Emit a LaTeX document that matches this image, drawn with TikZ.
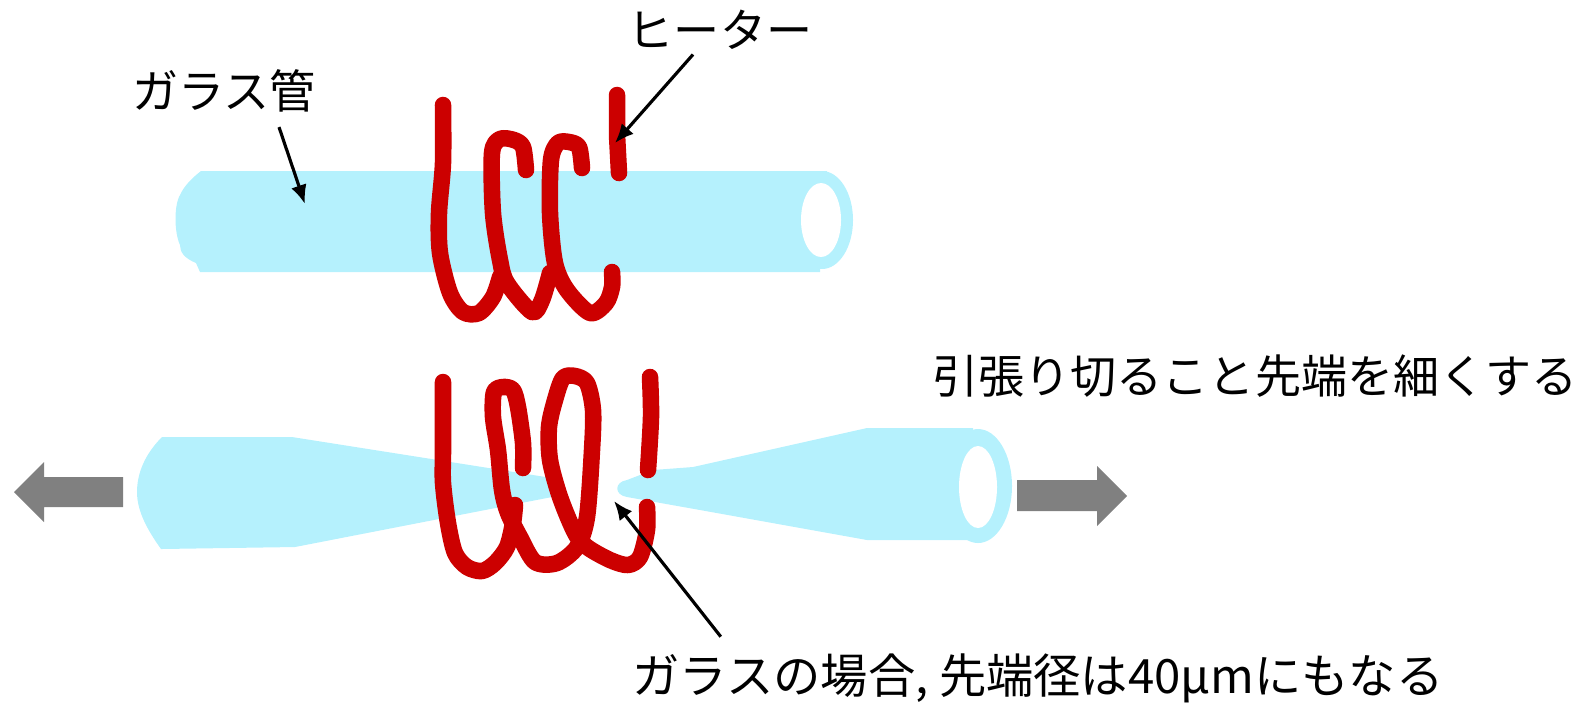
\documentclass[tikz,border=0pt]{standalone}
\usepackage{fontspec}
\setmainfont{Noto Sans CJK JP}
\usetikzlibrary{arrows.meta,calc}
\definecolor{glassblue}{HTML}{B5F1FD}
\definecolor{coilred}{HTML}{CC0000}
\tikzset{
    label text/.style={inner sep=2pt, font=\fontsize{13.1pt}{15pt}\selectfont},
    pointer/.style={line width=0.9pt, -{Latex[length=1.9mm, width=1.6mm]}},
    glass/.style={fill=glassblue, draw=none},
    coil/.style={draw=coilred, line width=4.7pt, line cap=round, line join=round},
    pull/.style={fill=black!50, draw=none}
}

\begin{document}
\begin{tikzpicture}[x=0.01cm, y=-0.01cm]
                    \useasboundingbox (0,0) rectangle (1580,702);

                    % upper tube
                    \fill[glass] (201,171) -- (827,171) -- (820,272) -- (200,272) -- (196,263)
                        .. controls (184,258) and (180,252) .. (180,245)
                        .. controls (174,232) and (174,205) .. (180,195)
                        .. controls (184,186) and (192,178) .. (201,171) -- cycle;
                    \fill[glass] (822,220) ellipse (31 and 49);
                    \fill[white] (821,220) ellipse (20 and 37);

                    % lower tube, left part
                    \fill[glass] (162,437) -- (292,437) -- (552,478) -- (552,497) -- (295,547) -- (161,549)
                        .. controls (146,528) and (137,510) .. (137,492)
                        .. controls (137,472) and (146,453) .. (162,437) -- cycle;
                    % lower tube, right part
                    \fill[glass] (867,428) -- (973,428) -- (970,540) -- (867,540) -- (700,510) -- (627,497)
                        .. controls (614,495) and (614,482) .. (627,480)
                        -- (653,470) -- (693,467) -- cycle;
                    \fill[glass] (978,486) ellipse (34 and 57);
                    \fill[white] (978,487) ellipse (19 and 41);

                    % upper coil
                    \draw[coil] plot[smooth, tension=0.5] coordinates {(443,105) (443,163) (439,213) (440,253) (450,293) (463,312) (479,313) (493,297) (500,277)};
                    \draw[coil] plot[smooth, tension=0.5] coordinates {(526,170) (523,147) (514,140) (500,139) (492,153) (493,213) (500,260) (507,283) (532,312) (542,300) (550,273)};
                    \draw[coil] plot[smooth, tension=0.5] coordinates {(582,168) (579,147) (569,142) (558,143) (551,160) (550,213) (555,263) (567,290) (590,313) (606,303) (612,287) (612,272)};
                    \draw[coil] (617,95) -- (617,135) -- (619,173);

                    % lower coil
                    \draw[coil] plot[smooth, tension=0.5] coordinates {(443,382) (443,450) (443,483) (448,523) (455,553) (467,567) (482,571) (495,563) (507,547) (513,523) (515,505)};
                    \draw[coil] plot[smooth, tension=0.5] coordinates {(523,468) (523,443) (518,407) (513,390) (503,387) (494,392) (493,417) (498,450) (502,490) (508,513) (520,537) (535,562) (557,563) (577,547) (587,517) (592,450) (593,410) (587,383) (575,376) (563,378) (555,400) (549,427) (550,460) (560,497) (575,533) (587,547) (610,560) (628,565) (640,557) (647,530) (647,507)};
                    \draw[coil] plot[smooth, tension=0.5] coordinates {(650,377) (651,417) (648,470)};

                    % pulling direction
                    \fill[pull] (123,477) -- (44,477) -- (44,462) -- (14,492) -- (44,522) -- (44,507) -- (123,507) -- cycle;
                    \fill[pull] (1017,480) -- (1097,480) -- (1097,466) -- (1127,496) -- (1097,526) -- (1097,511) -- (1017,511) -- cycle;

                    \node[label text] (glasslabel) at (224,91) {ガラス管};
                    \node[label text] (heaterlabel) at (720,30) {ヒーター};
                    \node[label text] (pulllabel) at (1255,376) {引張り切ること先端を細くする};
                    \node[label text, font=\fontsize{13.45pt}{15pt}\selectfont] (tiplabel) at (1038,678) {ガラスの場合, 先端径は40μmにもなる};

                    \coordinate (glasstip) at (305,204);
                    \coordinate (heatertip) at (615,143);
                    \coordinate (necktip) at (614,501);
                    \draw[pointer] ($(glasslabel.south)+(55,7)$) -- (glasstip);
                    \draw[pointer] ($(heaterlabel.south)+(-27,-3)$) -- (heatertip);
                    \draw[pointer] ($(tiplabel.north west)+(96,-9)$) -- (necktip);
                \end{tikzpicture}
\end{document}
